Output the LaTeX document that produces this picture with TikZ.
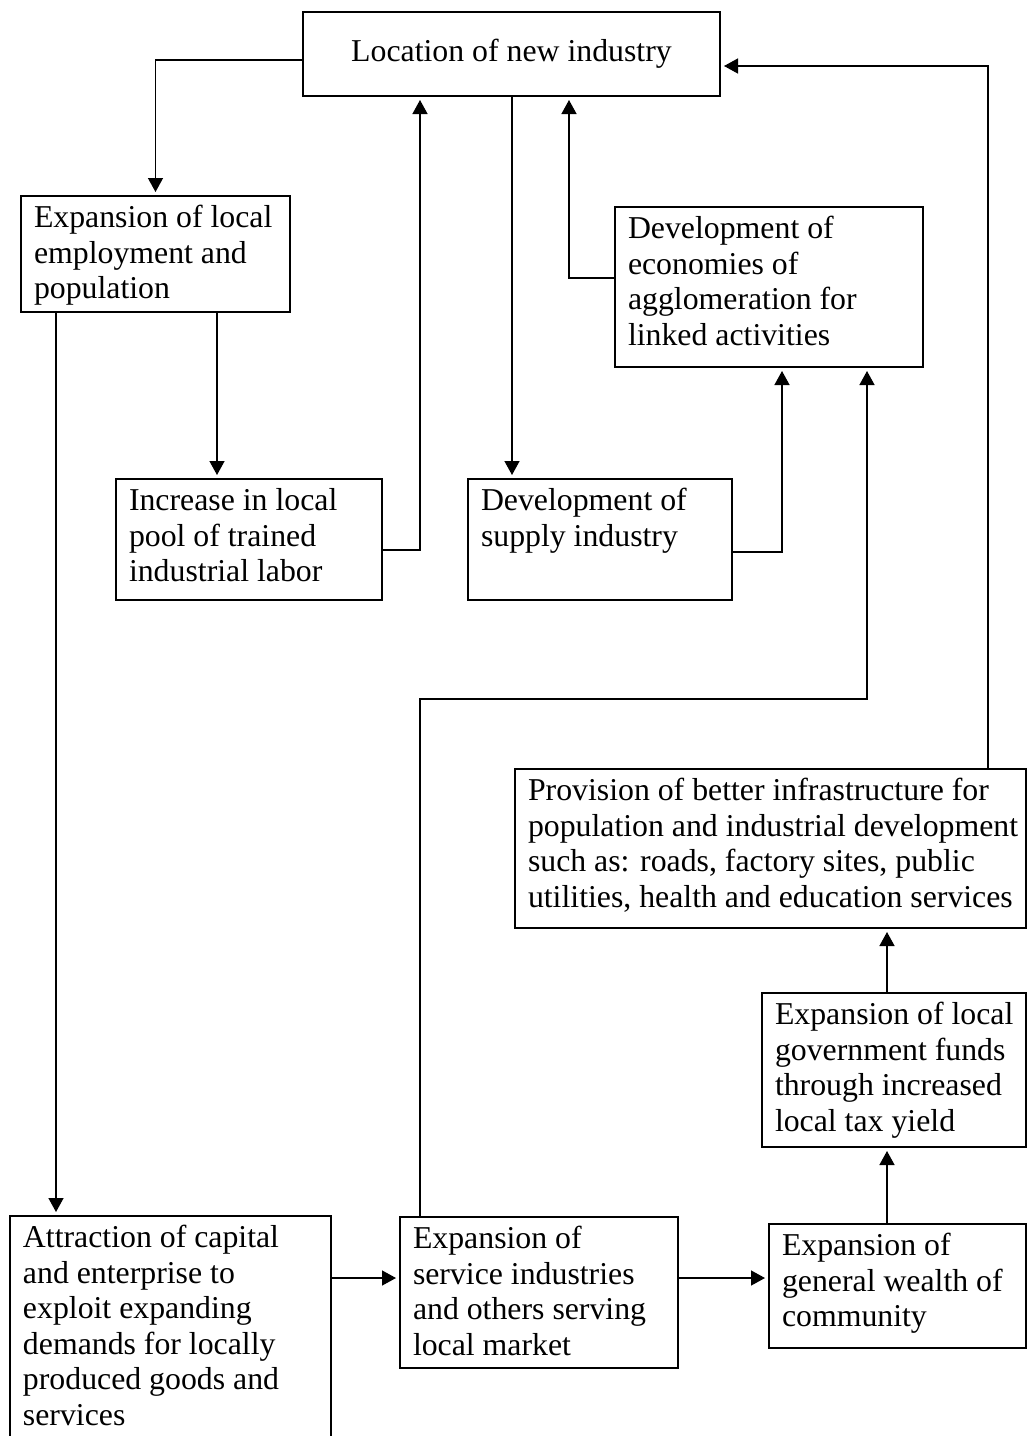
\documentclass[tikz,border=0pt]{standalone}
\usepackage{fontspec}
\setmainfont{Liberation Serif}
\usetikzlibrary{arrows.meta}
\newlength\unitpx
\setlength\unitpx{0.5pt}
\tikzset{
  stage/.style 2 args={draw, line width=0.8pt, outer sep=0pt, inner xsep=0pt,
    inner ysep=7\unitpx, anchor=north west,
    execute at begin node={\begin{minipage}[t][\dimexpr#2\unitpx-14\unitpx\relax][t]{#1\unitpx}\raggedright\leftskip=13\unitpx\strut},
    execute at end node={\end{minipage}}},
  link/.style={-{Triangle[length=7pt,width=7.5pt]}, line width=0.7pt, shorten >=2pt},
}
\begin{document}
\begin{tikzpicture}[x=0.5pt, y=-0.5pt,
    every node/.style={font=\fontsize{15.9}{17.75}\selectfont}]
    \useasboundingbox (0,0) rectangle (1027,1436);
    % boxes
    \node[draw, line width=0.8pt, outer sep=0pt, minimum width=417\unitpx,
        minimum height=84\unitpx, anchor=north west] (loc) at (303,12) {Location of new industry};
    \node[stage={269}{116}] (emp) at (21,196) {Expansion of local\\employment and\\population};
    \node[stage={266}{121}] (pool) at (116,479) {Increase in local\\pool of trained\\industrial labor};
    \node[stage={264}{121}] (sup) at (468,479) {Development of\\supply industry};
    \node[stage={308}{160}] (agg) at (615,207) {Development of\\economies of\\agglomeration for\\linked activities};
    \node[stage={511}{159}] (infra) at (515,769) {Provision of better infrastructure for\\population and industrial development\\such as: roads, factory sites, public\\utilities, health and education services};
    \node[stage={264}{154}] (gov) at (762,993) {Expansion of local\\government funds\\through increased\\local tax yield};
    \node[stage={321}{240}] (attr) at (10,1216) {Attraction of capital\\and enterprise to\\exploit expanding\\demands for locally\\produced goods and\\services};
    \node[stage={278}{151}] (serv) at (400,1217) {Expansion of\\service industries\\and others serving\\local market};
    \node[stage={257}{124}] (wealth) at (769,1224) {Expansion of\\general wealth of\\community};
    % bend points
    \coordinate (colA) at (56,0);
    \coordinate (colB) at (217,0);
    \coordinate (colC) at (420,0);
    \coordinate (colD) at (512,0);
    \coordinate (colE) at (569,0);
    \coordinate (colF) at (782,0);
    \coordinate (colG) at (867,0);
    \coordinate (colH) at (887,0);
    \coordinate (colI) at (988,0);
    \coordinate (rowP) at (0,550);
    \coordinate (rowS) at (0,552);
    \coordinate (rowG) at (0,278);
    \coordinate (rowA) at (0,699);
    \coordinate (rowT) at (0,1278);
    % connectors
    \draw[link] ([yshift=-3pt]loc.west) -| (emp.north);
    \draw[link] (emp.south -| colB) -- (pool.north -| colB);
    \draw[link] (emp.south -| colA) -- (attr.north -| colA);
    \draw[link] (loc.south -| colD) -- (sup.north -| colD);
    \draw[link] (pool.east |- rowP) -| (loc.south -| colC);
    \draw[link] (sup.east |- rowS) -| (agg.south -| colF);
    \draw[link] (agg.west |- rowG) -| (loc.south -| colE);
    \draw[link] (serv.north -| colC) |- (rowA -| colG) -- (agg.south -| colG);
    \draw[link] (infra.north -| colI) |- ([yshift=-6pt]loc.east);
    \draw[link] (attr.east |- rowT) -- (serv.west |- rowT);
    \draw[link] (serv.east |- rowT) -- (wealth.west |- rowT);
    \draw[link] (wealth.north -| colH) -- (gov.south -| colH);
    \draw[link] (gov.north -| colH) -- (infra.south -| colH);
\end{tikzpicture}
\end{document}
